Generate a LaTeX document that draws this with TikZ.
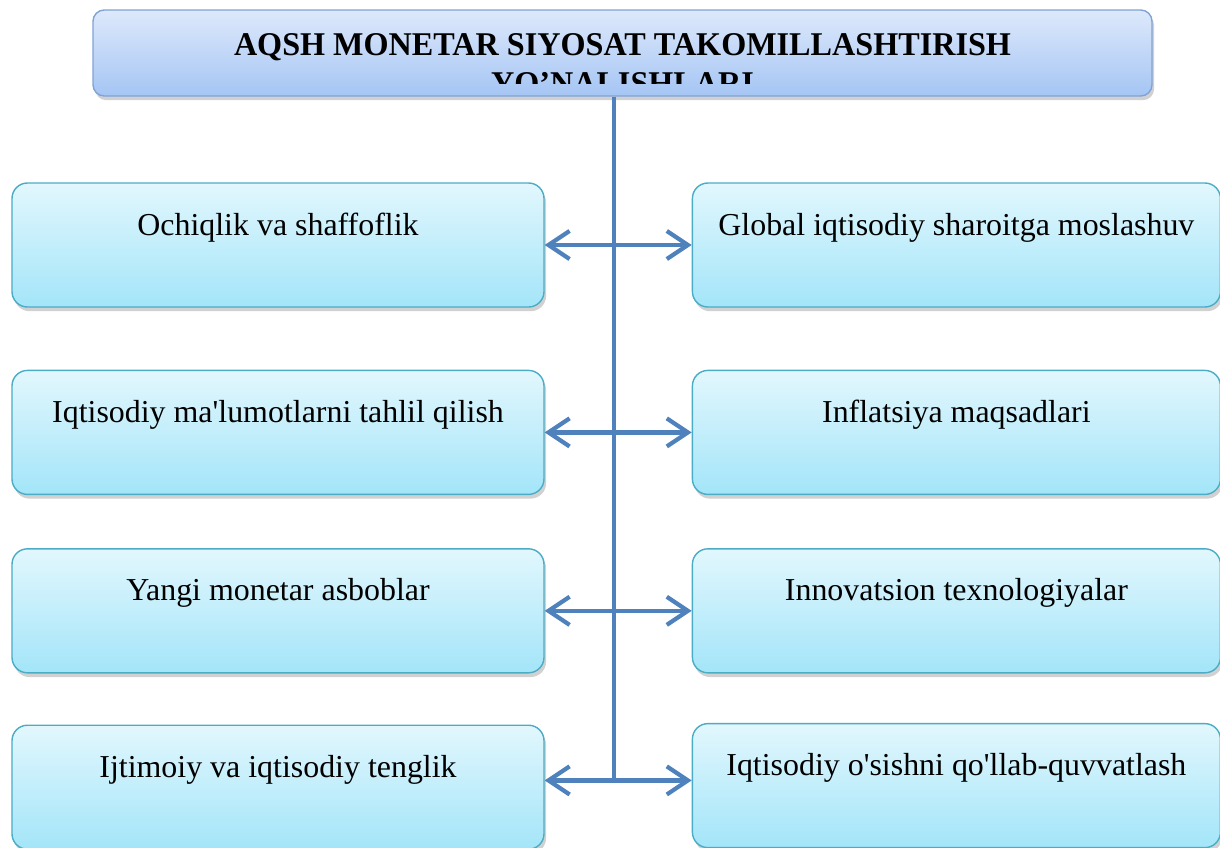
\documentclass[tikz,border=0pt]{standalone}
\usepackage{fontspec}
\setmainfont{Liberation Serif}
\newfontfamily\titlefont[FakeStretch=0.97]{Liberation Serif}
\usetikzlibrary{arrows.meta,positioning,shadows}

\definecolor{titletop}{HTML}{DDE9FB}
\definecolor{titlebottom}{HTML}{A5C5F4}
\definecolor{titleline}{HTML}{7FA3D6}
\definecolor{boxtop}{HTML}{E2F7FD}
\definecolor{boxbottom}{HTML}{A3E5F9}
\definecolor{boxline}{HTML}{4BACC6}
\definecolor{linkblue}{HTML}{4F81BD}

\begin{document}
\begin{tikzpicture}
  [
    soft shadow/.style = {drop shadow={shadow xshift=1.5pt,shadow yshift=-3pt,opacity=0.3,fill=black!60}},
    title box/.style = {draw=titleline,line width=1pt,rounded corners=8pt,top color=titletop,bottom color=titlebottom,
                        minimum width=26.475cm,minimum height=2.15cm,soft shadow},
    title text/.style = {anchor=base,inner sep=0pt,font=\titlefont\bfseries\fontsize{23.6}{28}\selectfont},
    side box/.style = {draw=boxline,line width=1pt,rounded corners=11pt,top color=boxtop,bottom color=boxbottom,
                       minimum width=13.3cm,inner sep=0pt,text height=1.3cm,text depth=1.8cm,
                       font=\fontsize{22.7}{27}\selectfont,soft shadow},
    right box/.style = {side box,minimum width=13.2cm},
    link/.style = {draw=linkblue,line width=3pt},
    both ends/.style = {link,{Straight Barb[length=15pt,width=20pt]}-{Straight Barb[length=15pt,width=20pt]}},
  ]
  \useasboundingbox (0,0) rectangle (30.5,-21.175);

  \node[title box] (title) at (15.5625,-1.325) {};
  \begin{scope}
    \clip (2.5,-0.3) rectangle (28.6,-2.075);
    \node[title text] (title1) at (15.5625,-1.375) {AQSH MONETAR SIYOSAT TAKOMILLASHTIRISH};
    \node[title text] (title2) at (15.5625,-2.35) {YO’NALISHLARI};
  \end{scope}

  \node[side box] (l1) at (6.95,-6.125) {Ochiqlik va shaffoflik};
  \node[side box,below=1.55cm of l1]  (l2) {Iqtisodiy ma\textquotesingle lumotlarni tahlil qilish};
  \node[side box,below=1.325cm of l2] (l3) {Yangi monetar asboblar};
  \node[side box,below=1.275cm of l3] (l4) {Ijtimoiy va iqtisodiy tenglik};

  \node[right box,right=3.675cm of l1] (r1) {Global iqtisodiy sharoitga moslashuv};
  \node[right box,right=3.675cm of l2] (r2) {Inflatsiya maqsadlari};
  \node[right box,right=3.675cm of l3] (r3) {Innovatsion texnologiyalar};
  \node[right box,right=3.675cm of l4,yshift=0.04cm] (r4) {Iqtisodiy o\textquotesingle sishni qo\textquotesingle llab-quvvatlash};

  \coordinate (stem) at (15.35,0);
  \coordinate (l4a) at ([yshift=0.17cm]l4.east);

  \draw[link] (title.south -| stem) -- (l4a -| stem);
  \draw[both ends] (l1.east) -- (l1.east -| r1.west);
  \draw[both ends] (l2.east) -- (l2.east -| r2.west);
  \draw[both ends] (l3.east) -- (l3.east -| r3.west);
  \draw[both ends] (l4a) -- (l4a -| r4.west);

\end{tikzpicture}
\end{document}
